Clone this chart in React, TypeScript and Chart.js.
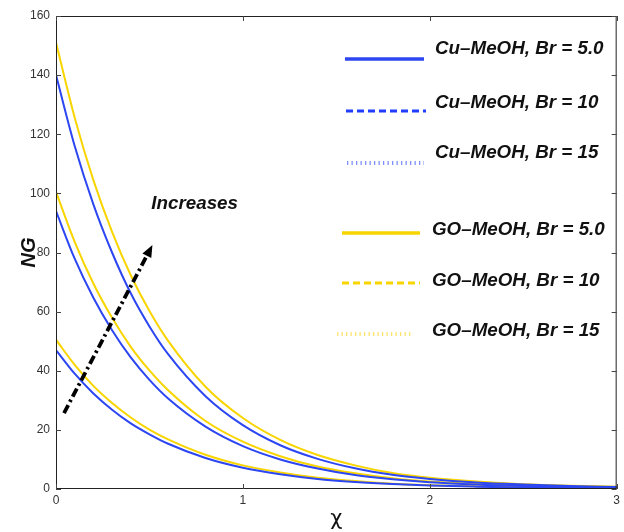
import React, { useEffect, useRef } from "react";
import { Chart, registerables } from "chart.js";
Chart.register(...registerables);

// ---- data ----
const xValues = [0, 0.1, 0.2, 0.3, 0.4, 0.5, 0.6, 0.8, 1.0, 1.2, 1.4, 1.6, 1.8, 2.0, 2.25, 2.5, 2.75, 3.0];
const cuBr5 = [47, 39, 32.3, 26.8, 22.2, 18.5, 15.3, 10.5, 7.2, 5.0, 3.4, 2.4, 1.7, 1.2, 0.8, 0.5, 0.4, 0.3];
const cuBr10 = [94, 77.9, 64.7, 53.7, 44.5, 36.9, 30.6, 21.1, 14.5, 10.0, 6.9, 4.7, 3.3, 2.3, 1.5, 1.0, 0.7, 0.5];
const cuBr15 = [140, 116, 96.3, 80, 66.2, 55, 45.6, 31.4, 21.6, 14.8, 10.2, 7.0, 4.8, 3.4, 2.2, 1.5, 1.0, 0.7];
const goBr5 = [50.5, 42, 34.9, 29.1, 24.2, 20.1, 16.8, 11.6, 8.0, 5.6, 3.8, 2.7, 1.8, 1.3, 0.9, 0.6, 0.4, 0.3];
const goBr10 = [100.5, 83.6, 69.5, 57.9, 48.1, 40.1, 33.4, 23.0, 16.0, 11.1, 7.6, 5.3, 3.6, 2.5, 1.7, 1.1, 0.8, 0.6];
const goBr15 = [151, 125.6, 104.5, 87, 72.3, 60.2, 50.1, 34.6, 24.0, 16.6, 11.5, 8.0, 5.4, 3.8, 2.5, 1.6, 1.1, 0.8];
const seriesLabels = [
  "Cu\u2013MeOH, Br = 5.0",
  "Cu\u2013MeOH, Br = 10",
  "Cu\u2013MeOH, Br = 15",
  "GO\u2013MeOH, Br = 5.0",
  "GO\u2013MeOH, Br = 10",
  "GO\u2013MeOH, Br = 15",
];
const xTickValues = [0, 1, 2, 3];
const yTickValues = [0, 20, 40, 60, 80, 100, 120, 140, 160];
const xTitle = "\u03c7";
const yTitle = "NG";
const annotationText = "Increases";
const arrowStart = { x: 0.043, y: 25.7 };
const arrowEnd = { x: 0.516, y: 82.5 };
const annotationPos = { x: 0.51, y: 96.5 };

// ---- styles ----
const BLUE = "#2c46f2";
const YELLOW = "#f9d500";
const seriesColors = [BLUE, BLUE, BLUE, YELLOW, YELLOW, YELLOW];
const legendSampleColors = [BLUE, "#1f3cff", "#8090ff", YELLOW, "#f9d500", "#fbe470"];
const legendDash = [[], [7, 4], [1.3, 3.2], [], [7, 4], [1.3, 3.2]];
const legendWidth = [3.5, 3, 4, 3.5, 3, 4];
const legendLineY = [59, 111, 163, 233, 283, 334];
const legendTextY = [49, 103, 153, 230, 281, 331];
const legendLineX = [[345, 424], [346, 426], [347, 424], [342, 420], [342, 420], [337, 413]];
const legendTextX = [435, 435, 435, 432, 432, 432];

const FONT = "'Liberation Sans', Arial, Helvetica, sans-serif";

const decorPlugin = {
  id: "decor",
  afterDatasetsDraw(chart: any) {
    const ctx = chart.ctx as CanvasRenderingContext2D;
    const { left, right, top, bottom } = chart.chartArea;
    const xs = chart.scales.x;
    const ys = chart.scales.y;
    ctx.save();
    // frame
    ctx.strokeStyle = "#222";
    ctx.lineWidth = 1;
    ctx.strokeRect(left + 0.5, top + 0.5, right - left - 1, bottom - top - 1);
    // inward ticks
    ctx.strokeStyle = "#444";
    ctx.beginPath();
    for (const v of xTickValues) {
      const px = Math.round(xs.getPixelForValue(v)) + 0.5;
      ctx.moveTo(px, bottom);
      ctx.lineTo(px, bottom - 5);
      ctx.moveTo(px, top);
      ctx.lineTo(px, top + 5);
    }
    for (const v of yTickValues) {
      const py = Math.round(ys.getPixelForValue(v)) + 0.5;
      ctx.moveTo(left, py);
      ctx.lineTo(left + 5, py);
      ctx.moveTo(right, py);
      ctx.lineTo(right - 5, py);
    }
    ctx.stroke();

    // arrow (dash-dot)
    const x0 = xs.getPixelForValue(arrowStart.x);
    const y0 = ys.getPixelForValue(arrowStart.y);
    const x1 = xs.getPixelForValue(arrowEnd.x);
    const y1 = ys.getPixelForValue(arrowEnd.y);
    const ang = Math.atan2(y1 - y0, x1 - x0);
    const headLen = 12;
    ctx.strokeStyle = "#000";
    ctx.lineWidth = 3.8;
    ctx.setLineDash([9, 3.5, 2.5, 3.5]);
    ctx.beginPath();
    ctx.moveTo(x0, y0);
    ctx.lineTo(x1 - Math.cos(ang) * headLen * 0.8, y1 - Math.sin(ang) * headLen * 0.8);
    ctx.stroke();
    ctx.setLineDash([]);
    ctx.fillStyle = "#000";
    ctx.beginPath();
    ctx.moveTo(x1, y1);
    ctx.lineTo(x1 - headLen * Math.cos(ang) + 5 * Math.sin(ang), y1 - headLen * Math.sin(ang) - 5 * Math.cos(ang));
    ctx.lineTo(x1 - headLen * Math.cos(ang) - 5 * Math.sin(ang), y1 - headLen * Math.sin(ang) + 5 * Math.cos(ang));
    ctx.closePath();
    ctx.fill();

    // annotation text
    ctx.font = `italic bold 18.8px ${FONT}`;
    ctx.textAlign = "left";
    ctx.textBaseline = "middle";
    ctx.fillStyle = "#111";
    ctx.fillText(annotationText, xs.getPixelForValue(annotationPos.x), ys.getPixelForValue(annotationPos.y));

    // legend
    chart.data.datasets.forEach((ds: any, i: number) => {
      ctx.strokeStyle = legendSampleColors[i];
      ctx.lineWidth = legendWidth[i];
      ctx.setLineDash(legendDash[i]);
      ctx.beginPath();
      ctx.moveTo(legendLineX[i][0], legendLineY[i]);
      ctx.lineTo(legendLineX[i][1], legendLineY[i]);
      ctx.stroke();
      ctx.setLineDash([]);
      ctx.fillStyle = "#111";
      ctx.font = `italic bold 18.8px ${FONT}`;
      ctx.fillText(ds.label, legendTextX[i], legendTextY[i]);
    });
    ctx.restore();
  },
};

export default function App() {
  const ref = useRef<HTMLCanvasElement | null>(null);
  useEffect(() => {
    document.body.style.margin = "0";
    const seriesValues = [cuBr5, cuBr10, cuBr15, goBr5, goBr10, goBr15];
    const chart = new Chart(ref.current as HTMLCanvasElement, {
      type: "line",
      data: {
        datasets: seriesValues.map((vals, i) => ({
          label: seriesLabels[i],
          data: xValues.map((x, j) => ({ x, y: vals[j] })),
          borderColor: seriesColors[i],
          backgroundColor: seriesColors[i],
          borderWidth: 2,
          pointRadius: 0,
          cubicInterpolationMode: "monotone" as const,
          fill: false,
        })),
      },
      options: {
        animation: false,
        responsive: false,
        layout: { padding: { left: 0, right: 4, top: 16, bottom: 0 } },
        plugins: { legend: { display: false }, tooltip: { enabled: false } },
        scales: {
          x: {
            type: "linear",
            min: 0,
            max: 3,
            afterBuildTicks: (s: any) => {
              s.ticks = xTickValues.map((v) => ({ value: v }));
            },
            afterFit: (s: any) => {
              s.height = 43;
            },
            grid: { display: false, drawTicks: false },
            border: { display: false },
            ticks: { padding: 4, color: "#333", font: { family: FONT, size: 12 }, maxRotation: 0 },
            title: {
              display: true,
              text: xTitle,
              color: "#111",
              font: { family: "'DejaVu Sans', sans-serif", size: 21 },
              padding: { top: 0, bottom: 0 },
            },
          },
          y: {
            min: 0,
            max: 160,
            afterBuildTicks: (s: any) => {
              s.ticks = yTickValues.map((v) => ({ value: v }));
            },
            afterFit: (s: any) => {
              s.width = 56;
            },
            grid: { display: false, drawTicks: false },
            border: { display: false },
            ticks: { padding: 6, color: "#333", font: { family: FONT, size: 12 } },
            title: {
              display: true,
              text: yTitle,
              color: "#111",
              font: { family: FONT, size: 20, style: "italic", weight: "bold" },
              padding: { top: 17, bottom: 0 },
            },
          },
        },
      },
      plugins: [decorPlugin],
    });
    return () => chart.destroy();
  }, []);
  return <canvas ref={ref} width={624} height={532} style={{ display: "block" }} />;
}
